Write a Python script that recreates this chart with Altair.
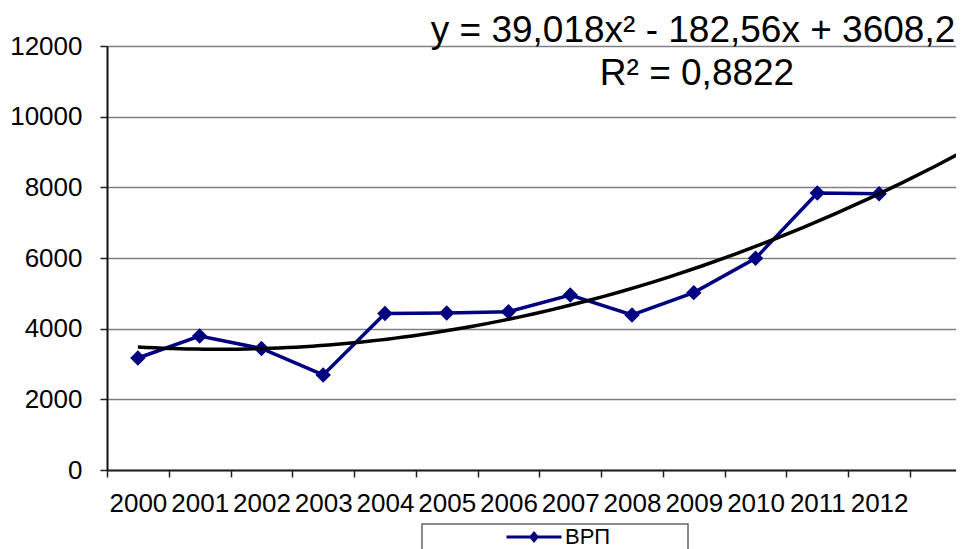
import json
import altair as alt
import pandas as pd

# ---- data ----
years = ["2000", "2001", "2002", "2003", "2004", "2005", "2006",
         "2007", "2008", "2009", "2010", "2011", "2012"]
positions = list(range(1, len(years) + 1))
vrp = [3170, 3790, 3440, 2690, 4430, 4440, 4480, 4950, 4390, 5020, 5990, 7840, 7820]
series_name = "ВРП"
y_ticks = [0, 2000, 4000, 6000, 8000, 10000, 12000]
equation_lines = ["y = 39,018x² - 182,56x + 3608,2", "R² = 0,8822"]

df = pd.DataFrame({"pos": positions, "year": years, "vrp": vrp,
                   "series": [series_name] * len(years)})

FONT = "Liberation Sans"
NAVY = "#000080"
W, H = 849, 424
X_MAX = 14.245

x_scale = alt.Scale(domain=[0.5, X_MAX], nice=False, zero=False)
y_scale = alt.Scale(domain=[0, 12000], nice=False)

x_axis = alt.Axis(
    values=[i + 0.5 for i in range(len(years) + 1)],
    labelExpr="(" + json.dumps(years) + ")[floor(datum.value)] || ''",
    labelOffset=30.9, labelFlush=False, labelOverlap=False, labelBound=False,
    tickSize=7, tickColor="#222222", tickWidth=1.5,
    domainColor="#222222", domainWidth=2,
    labelPadding=13, labelFont=FONT, labelFontSize=26, labelColor="black",
    grid=False, title=None,
)
y_axis = alt.Axis(
    values=y_ticks, format="d",
    tickSize=7, tickColor="#222222", tickWidth=1.5,
    domainColor="#111111", domainWidth=2,
    labelPadding=18, labelFont=FONT, labelFontSize=26, labelColor="black",
    grid=True, gridColor="#808080", gridWidth=1.5, title=None,
)

# legend swatch: line with a diamond; the last, empty sub-path only widens the
# legend frame to the right, as in the reference
legend_symbol = ("M-2.75,-0.15H2.75V0.15H-2.75Z "
                 "M0,-0.6L0.5,0L0,0.6L-0.5,0Z "
                 "M15.2,0L15.2,0Z")
color = alt.Color(
    "series:N",
    scale=alt.Scale(domain=[series_name], range=[NAVY]),
    legend=alt.Legend(
        orient="none", legendX=315, legendY=478, title=None,
        padding=2, strokeColor="#666666", fillColor="white",
        symbolType=legend_symbol, symbolSize=400, symbolStrokeWidth=0,
        symbolFillColor=NAVY, symbolOffset=99, labelOffset=20,
        labelFont=FONT, labelFontSize=22, labelColor="black",
    ),
)

base = alt.Chart(df).encode(
    x=alt.X("pos:Q", scale=x_scale, axis=x_axis),
    y=alt.Y("vrp:Q", scale=y_scale, axis=y_axis),
)

line = base.mark_line(strokeWidth=3.5).encode(color=color)
points = base.mark_point(shape="diamond", filled=True, size=240, opacity=1).encode(color=color)

trend = alt.Chart(df).transform_regression(
    "pos", "vrp", method="poly", order=2, extent=[1, X_MAX + 0.2]
).mark_line(color="black", strokeWidth=3.5, clip=True).encode(
    x=alt.X("pos:Q", scale=x_scale, axis=x_axis),
    y=alt.Y("vrp:Q", scale=y_scale, axis=y_axis),
)

eq1 = alt.Chart(pd.DataFrame({"t": [equation_lines[0]]})).mark_text(
    font=FONT, fontSize=37, color="black", align="center", baseline="alphabetic"
).encode(text="t:N", x=alt.value(586), y=alt.value(-4))

eq2 = alt.Chart(pd.DataFrame({"t": [equation_lines[1]]})).mark_text(
    font=FONT, fontSize=37, color="black", align="center", baseline="alphabetic"
).encode(text="t:N", x=alt.value(590), y=alt.value(39))

chart = alt.layer(line, points, trend, eq1, eq2).properties(
    width=W, height=H,
    autosize=alt.AutoSizeParams(type="none"),
    padding={"left": 99, "top": 38, "right": 0, "bottom": 79},
    background="white",
).configure_view(stroke=None).configure_legend(strokeWidth=1.5)

chart.save("out.html", embed_options={"renderer": "svg", "actions": False})
